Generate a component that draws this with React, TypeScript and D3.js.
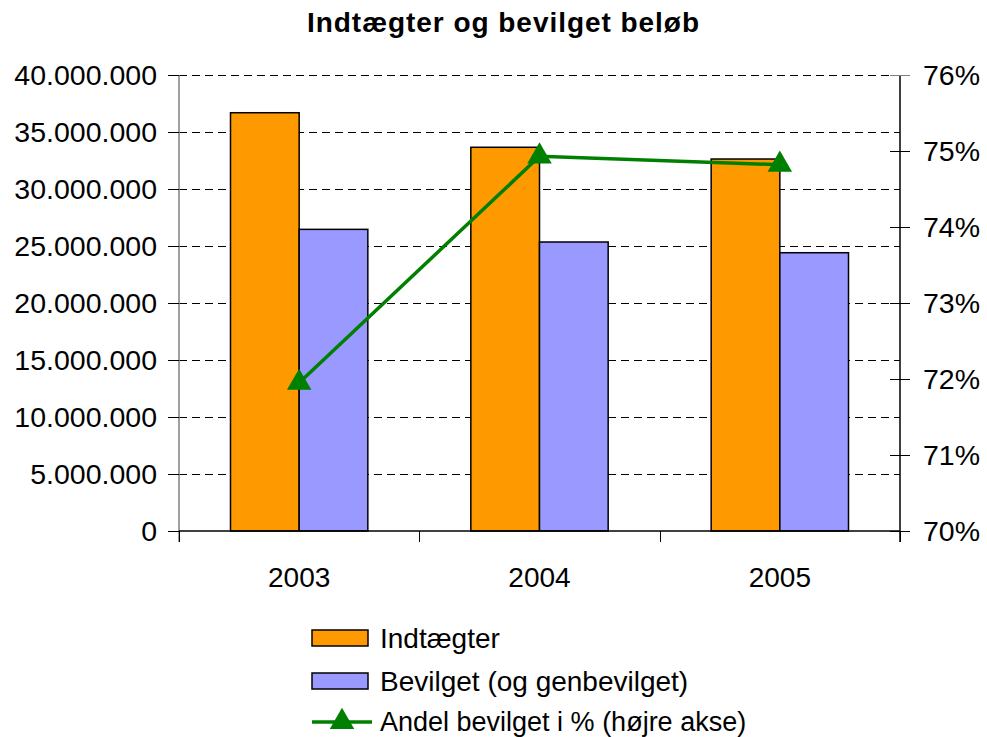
import React from "react";
import * as d3 from "d3";

const years = ["2003", "2004", "2005"];
const indtaegter = [36690000, 33660000, 32630000];
const bevilget = [26460000, 25350000, 24410000];
const andel = [0.7195, 0.7493, 0.7482];
const leftTicks = [0, 5e6, 10e6, 15e6, 20e6, 25e6, 30e6, 35e6, 40e6];
const rightTicks = [0.7, 0.71, 0.72, 0.73, 0.74, 0.75, 0.76];
const seriesNames = ["Indtægter", "Bevilget (og genbevilget)", "Andel bevilget i % (højre akse)"];

const W = 987, H = 737;
const L = 179, R = 900, T = 75, B = 531;
const ORANGE = "#FF9900", BLUE = "#9999FF", GREEN = "#008000";
const FONT = "'Liberation Sans', Arial, sans-serif";

const fmtLeft = (v: number) => d3.format(",")(v).replace(/,/g, ".");
const fmtRight = (v: number) => Math.round(v * 100) + "%";

export default function App() {
  const x = d3.scaleBand<string>().domain(years).range([L, R]).paddingInner(0).paddingOuter(0);
  const yL = d3.scaleLinear().domain([0, 40e6]).range([B, T]);
  const yR = d3.scaleLinear().domain([0.7, 0.76]).range([B, T]);
  const bw = x.bandwidth() / 3.5;
  const cx = (y: string) => (x(y) as number) + x.bandwidth() / 2;
  const line = d3.line<number>().x((_, i) => cx(years[i])).y((d) => yR(d));
  const tri = d3.symbol().type(d3.symbolTriangle).size(260)();
  const boundaries = [...years.map((y) => x(y) as number), R];
  const px = (v: number) => Math.round(v) + 0.5;

  return (
    <svg width={W} height={H} style={{ position: "absolute", left: 0, top: 0, background: "#fff" }} fontFamily={FONT}>
      <rect x={0} y={0} width={W} height={H} fill="#fff" />
      <text x={503} y={32} textAnchor="middle" fontSize={28} fontWeight="bold" fill="#000" textLength={392} lengthAdjust="spacing">
        Indtægter og bevilget beløb
      </text>
      {/* gridlines */}
      {leftTicks.filter((t) => t > 0).map((t) => (
        <line key={"g" + t} x1={L} x2={R} y1={px(yL(t))} y2={px(yL(t))} stroke="#000" strokeWidth={1} strokeDasharray="8,5" shapeRendering="crispEdges" />
      ))}
      {/* bars */}
      {years.map((y, i) => (
        <g key={y}>
          <rect x={cx(y) - bw} y={yL(indtaegter[i])} width={bw} height={B - yL(indtaegter[i])} fill={ORANGE} stroke="#000" strokeWidth={1.5} />
          <rect x={cx(y)} y={yL(bevilget[i])} width={bw} height={B - yL(bevilget[i])} fill={BLUE} stroke="#000" strokeWidth={1.5} />
        </g>
      ))}
      {/* axes */}
      <line x1={L} x2={L} y1={T} y2={B + 11} stroke="#808080" strokeWidth={1.5} />
      {leftTicks.map((t) => (
        <g key={"l" + t}>
          <line x1={168} x2={L} y1={px(yL(t))} y2={px(yL(t))} stroke="#000" strokeWidth={1} shapeRendering="crispEdges" />
          <text x={157} y={yL(t)} dy="0.36em" textAnchor="end" fontSize={28.5} fill="#000">{fmtLeft(t)}</text>
        </g>
      ))}
      <line x1={L} x2={R} y1={B} y2={B} stroke="#000" strokeWidth={1.5} />
      {boundaries.map((b, i) => (
        <line key={"c" + i} x1={px(b)} x2={px(b)} y1={B} y2={B + 11} stroke="#000" strokeWidth={1} shapeRendering="crispEdges" />
      ))}
      {years.map((y) => (
        <text key={"t" + y} x={cx(y)} y={587} textAnchor="middle" fontSize={28} fill="#000">{y}</text>
      ))}
      <line x1={R} x2={R} y1={T} y2={B + 11} stroke="#000" strokeWidth={1.5} />
      {rightTicks.map((t) => (
        <g key={"r" + t}>
          <line x1={890} x2={910} y1={px(yR(t))} y2={px(yR(t))} stroke={t === 0.76 ? "#808080" : "#000"} strokeWidth={1} shapeRendering="crispEdges" />
          <text x={923} y={yR(t)} dy="0.36em" textAnchor="start" fontSize={28.5} fill="#000">{fmtRight(t)}</text>
        </g>
      ))}
      {/* line series */}
      <path d={line(andel) || ""} fill="none" stroke={GREEN} strokeWidth={3.5} />
      {andel.map((v, i) => (
        <path key={"m" + i} d={tri || ""} transform={`translate(${cx(years[i])},${yR(v)})`} fill={GREEN} />
      ))}
      {/* legend */}
      <rect x={312} y={630} width={56} height={16} fill={ORANGE} stroke="#000" strokeWidth={1.5} />
      <text x={380} y={638} dy="0.36em" fontSize={28} fill="#000">{seriesNames[0]}</text>
      <rect x={312} y={673} width={56} height={16} fill={BLUE} stroke="#000" strokeWidth={1.5} />
      <text x={380} y={681} dy="0.36em" fontSize={28} fill="#000">{seriesNames[1]}</text>
      <line x1={312} x2={372} y1={722} y2={722} stroke={GREEN} strokeWidth={3.5} />
      <path d={tri || ""} transform="translate(342,722)" fill={GREEN} />
      <text x={380} y={721} dy="0.36em" fontSize={27} fill="#000">{seriesNames[2]}</text>
    </svg>
  );
}
